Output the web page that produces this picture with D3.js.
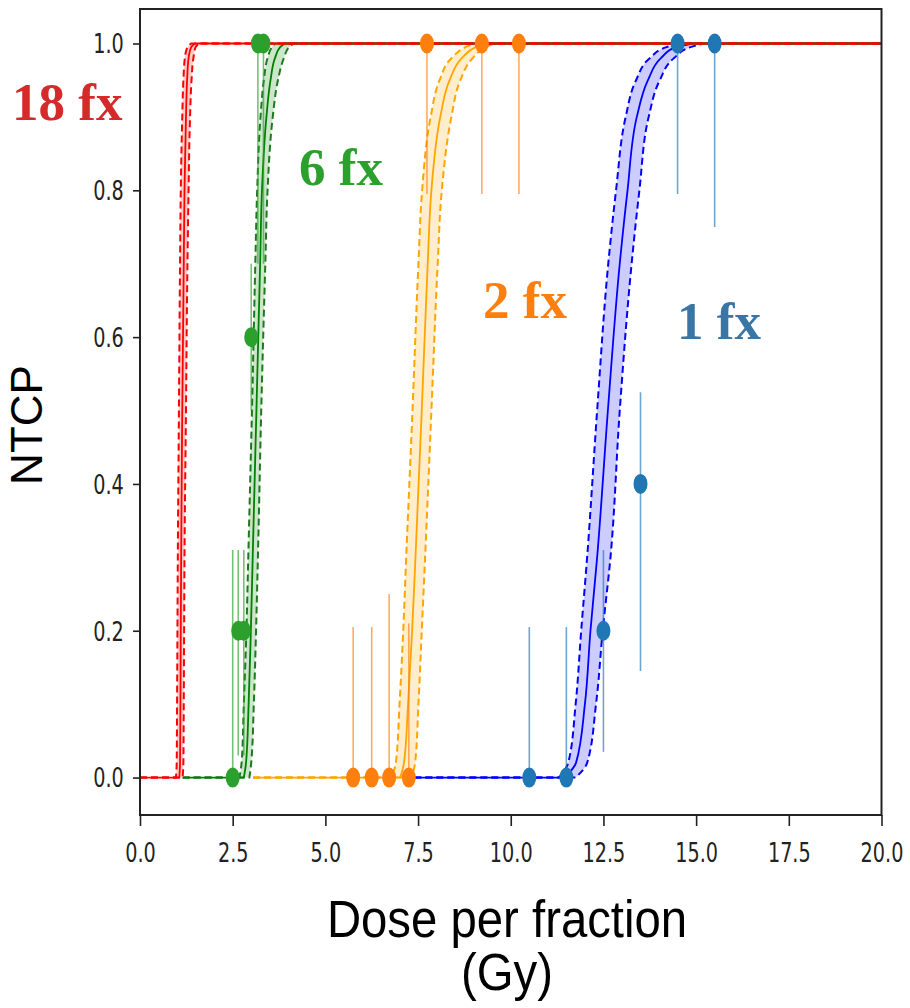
<!DOCTYPE html>
<html>
<head>
<meta charset="utf-8">
<script src="https://cdnjs.cloudflare.com/ajax/libs/d3/7.8.5/d3.min.js"></script>
<style>
  body { margin: 0; background: #fff; }
</style>
</head>
<body>
<script>
var levels = [0, 0.02, 0.1, 0.2, 0.3, 0.5, 0.7, 0.8, 0.9, 0.95, 0.98, 0.995, 1];

// dose per fraction (Gy) at each level: lower band edge, fit, upper band edge
var dose18Lo  = [0.97, 0.99, 1.00, 1.01, 1.02, 1.05, 1.08, 1.10, 1.14, 1.17, 1.21, 1.28, 1.38];
var dose18Fit = [1.06, 1.08, 1.09, 1.10, 1.11, 1.14, 1.18, 1.20, 1.24, 1.27, 1.31, 1.38, 1.48];
var dose18Hi  = [1.15, 1.17, 1.18, 1.19, 1.20, 1.24, 1.28, 1.31, 1.35, 1.39, 1.44, 1.50, 1.60];

var dose6Lo  = [2.68, 2.74, 2.80, 2.87, 2.92, 3.02, 3.11, 3.16, 3.25, 3.34, 3.44, 3.56, 3.65];
var dose6Fit = [2.80, 2.86, 2.93, 2.99, 3.04, 3.14, 3.24, 3.29, 3.41, 3.52, 3.64, 3.78, 3.90];
var dose6Hi  = [2.95, 3.00, 3.07, 3.13, 3.18, 3.27, 3.38, 3.44, 3.58, 3.72, 3.88, 4.02, 4.15];

var dose2Lo  = [6.78, 6.90, 7.00, 7.10, 7.18, 7.35, 7.51, 7.61, 7.84, 8.08, 8.40, 8.78, 9.00];
var dose2Fit = [7.02, 7.12, 7.23, 7.34, 7.43, 7.60, 7.76, 7.86, 8.10, 8.35, 8.68, 9.05, 9.30];
var dose2Hi  = [7.32, 7.42, 7.51, 7.60, 7.69, 7.86, 8.03, 8.14, 8.40, 8.64, 8.97, 9.32, 9.55];

var dose1Lo  = [11.30, 11.55, 11.75, 11.90, 12.06, 12.33, 12.63, 12.84, 13.10, 13.38, 13.75, 14.20, 14.60];
var dose1Fit = [11.45, 11.76, 12.00, 12.15, 12.33, 12.62, 12.94, 13.15, 13.40, 13.70, 14.05, 14.45, 14.90];
var dose1Hi  = [11.75, 12.06, 12.30, 12.48, 12.69, 12.94, 13.26, 13.47, 13.72, 14.02, 14.40, 14.85, 15.20];

// where each curve starts on the x axis
var curveStart = { "18 fx": 0, "6 fx": 1.15, "2 fx": 3.05, "1 fx": 7.4 };

// observed rates: dose, NTCP, lower and upper end of error bar
var obs6Dose = [2.5, 2.65, 2.8, 3.0, 3.18, 3.33];
var obs6Ntcp = [0, 0.2, 0.2, 0.6, 1, 1];
var obs6Low  = [0, 0.03, 0.03, 0.5, 0.7, 0.7];
var obs6High = [0.31, 0.31, 0.31, 0.7, 1, 1];

var obs2Dose = [5.75, 6.25, 6.72, 7.25, 7.74, 9.22, 10.22];
var obs2Ntcp = [0, 0, 0, 0, 1, 1, 1];
var obs2Low  = [0, 0, 0, 0, 0.795, 0.795, 0.795];
var obs2High = [0.205, 0.205, 0.25, 0.21, 1, 1, 1];

var obs1Dose = [10.5, 11.5, 12.5, 13.5, 14.5, 15.5];
var obs1Ntcp = [0, 0, 0.2, 0.4, 1, 1];
var obs1Low  = [0, 0, 0.035, 0.145, 0.795, 0.75];
var obs1High = [0.205, 0.205, 0.31, 0.525, 1, 1];

var xTicks = [0, 2.5, 5, 7.5, 10, 12.5, 15, 17.5, 20];
var yTicks = [0, 0.2, 0.4, 0.6, 0.8, 1.0];

// drawn in this order, so 18 fx ends up on top
var series = [
  { name: "1 fx",  lo: dose1Lo,  fit: dose1Fit,  hi: dose1Hi,  line: "#0000ff", fill: "#ccccff", dash: "#0000ff",
    dot: "#1f77b4", label: "#3a76a5", lx: 677, ly: 339,
    obs: { d: obs1Dose, n: obs1Ntcp, l: obs1Low, h: obs1High } },
  { name: "2 fx",  lo: dose2Lo,  fit: dose2Fit,  hi: dose2Hi,  line: "#ffa500", fill: "#ffedcc", dash: "#ffa500",
    dot: "#ff7f0e", label: "#ff7f0e", lx: 483, ly: 318,
    obs: { d: obs2Dose, n: obs2Ntcp, l: obs2Low, h: obs2High } },
  { name: "6 fx",  lo: dose6Lo,  fit: dose6Fit,  hi: dose6Hi,  line: "#008000", fill: "#cce6cc", dash: "#1b7a1b",
    dot: "#2ca02c", label: "#2ca02c", lx: 299, ly: 185,
    obs: { d: obs6Dose, n: obs6Ntcp, l: obs6Low, h: obs6High } },
  { name: "18 fx", lo: dose18Lo, fit: dose18Fit, hi: dose18Hi, line: "#ff0000", fill: "#ffcccc", dash: "#ff0000",
    dot: null, label: "#d42a2a", lx: 12, ly: 120, obs: null }
];

var svgWidth = 910;
var svgHeight = 1008;

var svg = d3.select("body")
  .append("svg")
  .attr("width", svgWidth)
  .attr("height", svgHeight)
  .style("font-family", "DejaVu Sans");

var x = d3.scaleLinear().domain([0, 20]).range([140, 881.5]);
var y = d3.scaleLinear().domain([-0.051, 1.047]).range([815, 9]);

// curves are read as dose vs NTCP, so interpolate along y
var rising = d3.line()
  .x(d => x(d[0]))
  .y(d => y(d[1]))
  .curve(d3.curveMonotoneY);

function curvePath(doses, start) {
  var pts = doses.map((d, i) => [d, levels[i]]);
  var p = rising(pts);
  return "M" + x(start) + "," + y(0) + "L" + p.slice(1) + "L" + x(20) + "," + y(1);
}

var band = d3.area()
  .y(d => y(d.l))
  .x0(d => x(d.lo))
  .x1(d => x(d.hi))
  .curve(d3.curveMonotoneY);

var plot = svg.append("g");

plot.append("clipPath").attr("id", "clip")
  .append("rect")
  .attr("x", x(0)).attr("y", y(1.047))
  .attr("width", x(20) - x(0)).attr("height", y(-0.051) - y(1.047));

var curves = plot.append("g").attr("clip-path", "url(#clip)");

series.forEach(function(s) {
  var g = curves.append("g");
  var start = curveStart[s.name];
  var bandData = levels.map((l, i) => ({ l: l, lo: s.lo[i], hi: s.hi[i] }));

  g.append("path")
    .attr("d", band(bandData))
    .attr("fill", s.fill)
    .attr("stroke", "none");

  [s.lo, s.hi].forEach(function(b) {
    g.append("path")
      .attr("d", curvePath(b, start))
      .attr("fill", "none")
      .attr("stroke", s.dash)
      .attr("stroke-width", 2)
      .attr("stroke-dasharray", "7,4");
  });

  g.append("path")
    .attr("d", curvePath(s.fit, start))
    .attr("fill", "none")
    .attr("stroke", s.line)
    .attr("stroke-width", 1.8);
});

// error bars, then the dots on top
var marks = plot.append("g");
series.forEach(function(s) {
  if (!s.obs) return;
  var pts = s.obs.d.map((d, i) => ({ d: d, n: s.obs.n[i], l: s.obs.l[i], h: s.obs.h[i] }));
  marks.append("g").selectAll("line")
    .data(pts)
    .enter()
    .append("line")
    .attr("x1", d => x(d.d)).attr("x2", d => x(d.d))
    .attr("y1", d => y(d.l)).attr("y2", d => y(d.h))
    .attr("stroke", s.dot)
    .attr("stroke-opacity", 0.65)
    .attr("stroke-width", 1.6);
});
series.forEach(function(s) {
  if (!s.obs) return;
  var pts = s.obs.d.map((d, i) => ({ d: d, n: s.obs.n[i] }));
  marks.append("g").selectAll("ellipse")
    .data(pts)
    .enter()
    .append("ellipse")
    .attr("cx", d => x(d.d))
    .attr("cy", d => y(d.n))
    .attr("rx", 7)
    .attr("ry", 10)
    .attr("fill", s.dot);
});

// frame
svg.append("rect")
  .attr("x", x(0)).attr("y", y(1.047))
  .attr("width", x(20) - x(0)).attr("height", y(-0.051) - y(1.047))
  .attr("fill", "none")
  .attr("stroke", "#222")
  .attr("stroke-width", 2);

// axes
var bottomAxis = d3.axisBottom(x).tickValues(xTicks).tickFormat(d3.format(".1f"))
  .tickSizeInner(11).tickSizeOuter(0).tickPadding(18);
var leftAxis = d3.axisLeft(y).tickValues(yTicks).tickFormat(d3.format(".1f"))
  .tickSizeInner(7).tickSizeOuter(0).tickPadding(4);

var xAxisG = svg.append("g")
  .attr("transform", `translate(0, ${y(-0.051)})`)
  .call(bottomAxis);
var yAxisG = svg.append("g")
  .attr("transform", `translate(${x(0)}, 0)`)
  .call(leftAxis);

[xAxisG, yAxisG].forEach(function(g) {
  g.select(".domain").remove();
  g.selectAll(".tick line").attr("stroke", "#222").attr("stroke-width", 1.6);
  g.selectAll(".tick text")
    .attr("fill", "#222")
    .style("font-family", "DejaVu Sans")
    .style("font-size", "26px");
});
xAxisG.selectAll(".tick text").attr("transform", "scale(0.74,1)");
yAxisG.selectAll(".tick text").attr("transform", "scale(0.74,1)").attr("x", -22).attr("dy", "0.36em");

// fraction labels
series.forEach(function(s) {
  svg.append("text")
    .attr("x", s.lx)
    .attr("y", s.ly)
    .style("font-family", "Liberation Serif")
    .style("font-weight", "bold")
    .style("font-size", "53px")
    .attr("fill", s.label)
    .text(s.name);
});

// axis titles
svg.append("text")
  .attr("transform", "translate(42, 425) rotate(-90)")
  .attr("text-anchor", "middle")
  .style("font-family", "Liberation Sans")
  .style("font-size", "44px")
  .attr("fill", "#000")
  .text("NTCP");

svg.append("text")
  .attr("transform", "translate(507, 937) scale(0.91,1)")
  .attr("text-anchor", "middle")
  .style("font-family", "Liberation Sans")
  .style("font-size", "52px")
  .attr("fill", "#000")
  .text("Dose per fraction");

svg.append("text")
  .attr("transform", "translate(507, 990) scale(0.91,1)")
  .attr("text-anchor", "middle")
  .style("font-family", "Liberation Sans")
  .style("font-size", "52px")
  .attr("fill", "#000")
  .text("(Gy)");
</script>
</body>
</html>
